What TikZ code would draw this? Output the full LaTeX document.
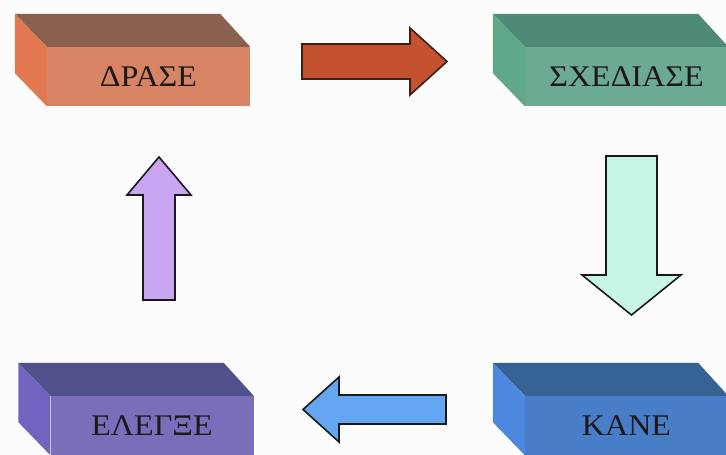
\documentclass[tikz,border=0pt]{standalone}
\usepackage{fontspec}
\setmainfont{Liberation Serif}
\usetikzlibrary{calc}

% face colours of the four bricks
\definecolor{drFront}{RGB}{214,132,100}
\definecolor{drTop}{RGB}{138,96,80}
\definecolor{drSide}{RGB}{226,120,80}
\definecolor{sxFront}{RGB}{108,170,146}
\definecolor{sxTop}{RGB}{78,138,118}
\definecolor{sxSide}{RGB}{96,168,138}
\definecolor{elFront}{RGB}{122,110,186}
\definecolor{elTop}{RGB}{80,80,140}
\definecolor{elSide}{RGB}{112,100,192}
\definecolor{knFront}{RGB}{72,126,200}
\definecolor{knTop}{RGB}{54,98,148}
\definecolor{knSide}{RGB}{76,136,222}
\definecolor{textdark}{RGB}{30,24,26}
% block arrow colours
\definecolor{arOrangeA}{RGB}{196,82,48}
\definecolor{arOrangeB}{RGB}{240,118,72}
\definecolor{arOrangeEdge}{RGB}{60,32,24}
\definecolor{arMint}{RGB}{198,245,227}
\definecolor{arLilac}{RGB}{200,166,242}
\definecolor{arBlue}{RGB}{100,166,242}
\definecolor{paper}{RGB}{252,252,252}

\tikzset{
  brickfront/.style={rectangle, minimum width=203pt, minimum height=59pt,
    inner sep=0pt, text=textdark, font=\fontsize{30}{32}\selectfont},
  blockarrow/.style={line width=1.6pt, line join=miter, draw=black!90},
}

% #1 name, #2 centre of front face, #3 front, #4 top, #5 side colour, #6 label
\newcommand\brickbox[6]{%
  \node[brickfront, fill=#3] (#1) at (#2) {\scalebox{1.07}[1]{#6}};
  \fill[#4] (#1.north west) -- ++(-32,-33) -- ($(#1.north east)+(-30,-33)$)
            -- (#1.north east) -- cycle;
  \fill[#5] (#1.north west) -- ++(-32,-33) -- ($(#1.south west)+(-32,-33)$)
            -- (#1.south west) -- cycle;
}

\begin{document}
\begin{tikzpicture}[x=1pt, y=-1pt]
  \useasboundingbox (0,0) rectangle (726,455);
  \fill[paper] (0,0) rectangle (726,455);
  \clip (0,0) rectangle (726,455);

  \brickbox{drase}{148.5,76.5}{drFront}{drTop}{drSide}{ΔΡΑΣΕ}
  \brickbox{sxediase}{626.5,76.5}{sxFront}{sxTop}{sxSide}{ΣΧΕΔΙΑΣΕ}
  \brickbox{elegxe}{152,425.5}{elFront}{elTop}{elSide}{ΕΛΕΓΞΕ}
  \brickbox{kane}{626.5,425.5}{knFront}{knTop}{knSide}{ΚΑΝΕ}

  % arrow: ΔΡΑΣΕ -> ΣΧΕΔΙΑΣΕ
  \draw[blockarrow, draw=arOrangeEdge, top color=arOrangeA,
        middle color=arOrangeB, bottom color=arOrangeA]
    (302,44) -- (410,44) -- (410,28) -- (447,61.5) -- (410,95)
    -- (410,79) -- (302,79) -- cycle;
  % arrow: ΣΧΕΔΙΑΣΕ -> ΚΑΝΕ
  \draw[blockarrow, fill=arMint]
    (606,156) -- (657,156) -- (657,275) -- (681,275) -- (631.5,315)
    -- (582,275) -- (606,275) -- cycle;
  % arrow: ΚΑΝΕ -> ΕΛΕΓΞΕ
  \draw[blockarrow, fill=arBlue]
    (446,395) -- (339,395) -- (339,377) -- (303,409.5) -- (339,442)
    -- (339,424) -- (446,424) -- cycle;
  % arrow: ΕΛΕΓΞΕ -> ΔΡΑΣΕ
  \draw[blockarrow, fill=arLilac]
    (143,300) -- (143,195) -- (127,195) -- (159,157) -- (191,195)
    -- (175,195) -- (175,300) -- cycle;
\end{tikzpicture}
\end{document}
